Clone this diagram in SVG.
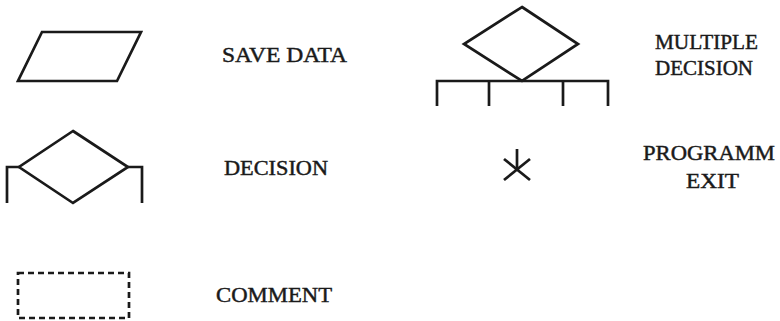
<svg xmlns="http://www.w3.org/2000/svg" width="780" height="321" viewBox="0 0 780 321">
<style>
.s{fill:none;stroke:#1a1a1a;stroke-width:2.7;stroke-linejoin:miter}
.d{stroke-dasharray:6 4}
.t{font-family:"Liberation Serif","Times New Roman",serif;font-size:21px;fill:#1a1a1a;stroke:#1a1a1a;stroke-width:0.45}
</style>
<rect width="780" height="321" fill="#fff"/>
<g id="save-data">
<polygon class="s" points="42,32 141,32 117,81 18,81"/>
<text class="t" x="222" y="62" textLength="125" lengthAdjust="spacingAndGlyphs">SAVE DATA</text>
</g>
<g id="decision">
<polygon class="s" points="73,131 128,167 73,203 19,167"/>
<polyline class="s" points="7,203 7,167 19,167"/>
<polyline class="s" points="128,167 142,167 142,203"/>
<text class="t" x="224" y="175" textLength="104" lengthAdjust="spacingAndGlyphs">DECISION</text>
</g>
<g id="comment">
<rect class="s d" x="18" y="273" width="111" height="45"/>
<text class="t" x="216" y="302" textLength="116" lengthAdjust="spacingAndGlyphs">COMMENT</text>
</g>
<g id="multiple-decision">
<polygon class="s" points="522,7 578,44 522,81 464,44"/>
<polyline class="s" points="437,106 437,81 608,81 608,106"/>
<line class="s" x1="489" y1="81" x2="489" y2="106"/>
<line class="s" x1="563" y1="81" x2="563" y2="106"/>
<text class="t" x="655" y="49" textLength="103" lengthAdjust="spacingAndGlyphs">MULTIPLE</text>
<text class="t" x="655" y="75" textLength="98" lengthAdjust="spacingAndGlyphs">DECISION</text>
</g>
<g id="program-exit">
<line class="s" x1="517" y1="149" x2="517" y2="169.5"/>
<line class="s" x1="504" y1="159" x2="530" y2="180"/>
<line class="s" x1="530" y1="159" x2="504" y2="180"/>
<text class="t" x="643" y="160" textLength="132" lengthAdjust="spacingAndGlyphs">PROGRAMM</text>
<text class="t" x="686" y="188" textLength="53" lengthAdjust="spacingAndGlyphs">EXIT</text>
</g>
<g id="connectors"></g>
</svg>
